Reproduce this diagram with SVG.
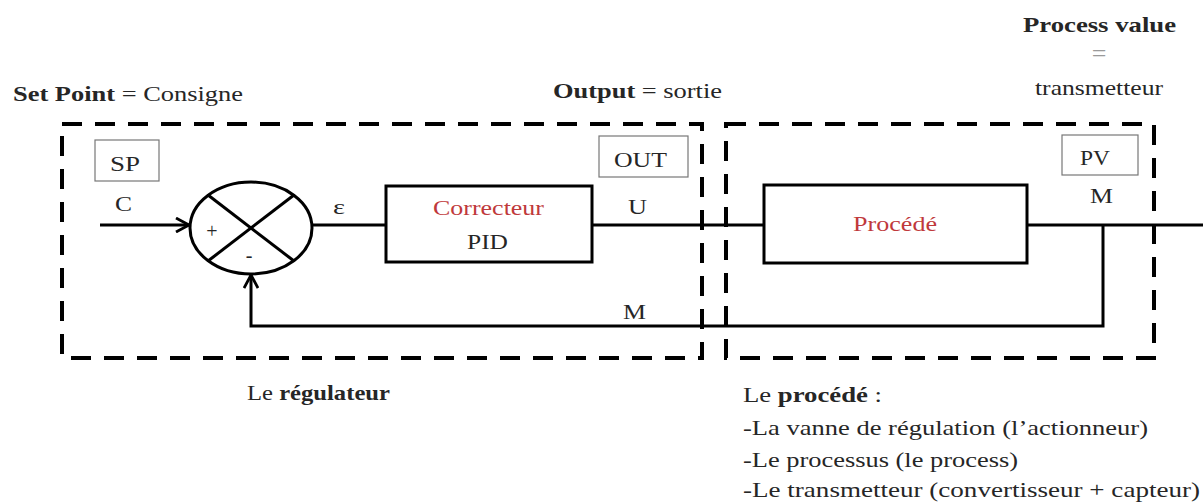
<svg xmlns="http://www.w3.org/2000/svg" width="1203" height="502" viewBox="0 0 1203 502">
  <style>
    text { font-family: "Liberation Serif", "Times New Roman", Tinos, "Nimbus Roman", "Noto Serif", "DejaVu Serif", serif; fill: #262626; }
    .lbl { font-size: 20px; }
    .hd { font-size: 21px; }
    .red { fill: #c0393b; }
    .b { font-weight: bold; }
    .wire { fill: none; stroke: #000; stroke-width: 3; }
    .blk { fill: #fff; stroke: #000; stroke-width: 3; }
    .tag { fill: #fff; stroke: #777; stroke-width: 1.2; }
    .zone { fill: none; stroke: #000; stroke-width: 4; stroke-dasharray: 20 13; }
  </style>
  <defs>
    <marker id="arr" viewBox="0 0 16 16" refX="14" refY="8" markerWidth="16" markerHeight="16" markerUnits="userSpaceOnUse" orient="auto">
      <path d="M1,1 L14,8 L1,15" fill="none" stroke="#000" stroke-width="2.8"/>
    </marker>
  </defs>
  <rect width="1203" height="502" fill="#fff"/>

  <!-- dashed zones -->
  <g id="zone-regulateur">
    <rect class="zone" x="62" y="124" width="640" height="234"/>
  </g>
  <g id="zone-procede">
    <rect class="zone" x="726" y="124" width="428" height="234"/>
  </g>

  <!-- connectors -->
  <g id="connectors">
    <line class="wire" x1="100" y1="225" x2="189" y2="225" marker-end="url(#arr)"/>
    <line class="wire" x1="312" y1="225" x2="386" y2="225"/>
    <line class="wire" x1="592" y1="225" x2="764" y2="225"/>
    <line class="wire" x1="1027" y1="225" x2="1203" y2="225"/>
    <polyline class="wire" points="1103,225 1103,326 251,326 251,275" marker-end="url(#arr)"/>
  </g>

  <!-- summing junction -->
  <g id="comparateur">
    <ellipse cx="251" cy="228" rx="61" ry="46" fill="#fff" stroke="#000" stroke-width="3"/>
    <line class="wire" x1="208" y1="195" x2="294" y2="261"/>
    <line class="wire" x1="294" y1="195" x2="208" y2="261"/>
    <text x="212" y="238" font-size="20" text-anchor="middle">+</text>
    <text x="249" y="262" font-size="20" text-anchor="middle">-</text>
  </g>

  <g id="correcteur">
    <rect class="blk" x="386" y="186" width="206" height="76"/>
    <text class="lbl red" x="433" y="215" textLength="111" lengthAdjust="spacingAndGlyphs">Correcteur</text>
    <text class="lbl" x="467" y="249" textLength="41" lengthAdjust="spacingAndGlyphs">PID</text>
  </g>

  <g id="procede">
    <rect class="blk" x="764" y="185" width="263" height="78"/>
    <text class="lbl red" x="853" y="231" textLength="84" lengthAdjust="spacingAndGlyphs">Procédé</text>
  </g>

  <!-- signal tags -->
  <g id="sp">
    <rect class="tag" x="95" y="140" width="64" height="41"/>
    <text class="lbl" x="110" y="171" textLength="30" lengthAdjust="spacingAndGlyphs">SP</text>
    <text class="lbl" x="115" y="211" textLength="17" lengthAdjust="spacingAndGlyphs">C</text>
  </g>
  <g id="out">
    <rect class="tag" x="599" y="136" width="89" height="41"/>
    <text class="lbl" x="614" y="167" textLength="53" lengthAdjust="spacingAndGlyphs">OUT</text>
    <text class="lbl" x="628" y="214" textLength="19" lengthAdjust="spacingAndGlyphs">U</text>
  </g>
  <g id="pv">
    <rect class="tag" x="1062" y="135" width="76" height="40"/>
    <text class="lbl" x="1080" y="165" textLength="30" lengthAdjust="spacingAndGlyphs">PV</text>
    <text class="lbl" x="1090" y="203" textLength="23" lengthAdjust="spacingAndGlyphs">M</text>
  </g>
  <g id="labels-wires">
    <text class="lbl" x="333" y="214" textLength="12" lengthAdjust="spacingAndGlyphs">ε</text>
    <text class="lbl" x="623" y="319" textLength="23" lengthAdjust="spacingAndGlyphs">M</text>
  </g>

  <!-- headings -->
  <g id="set-point">
    <text class="hd" x="13" y="101" textLength="230" lengthAdjust="spacingAndGlyphs"><tspan class="b">Set Point</tspan> = Consigne</text>
  </g>
  <g id="output">
    <text class="hd" x="553" y="98" textLength="169" lengthAdjust="spacingAndGlyphs"><tspan class="b">Output</tspan> = sortie</text>
  </g>
  <g id="process-value">
    <text class="hd b" x="1023" y="32" textLength="153" lengthAdjust="spacingAndGlyphs">Process value</text>
    <text x="1099" y="62" font-size="26" text-anchor="middle" style="fill:#9a9a9a">=</text>
    <text class="hd" x="1035" y="95" textLength="128" lengthAdjust="spacingAndGlyphs">transmetteur</text>
  </g>

  <!-- captions -->
  <g id="legende-regulateur">
    <text class="hd" x="247" y="400" textLength="143" lengthAdjust="spacingAndGlyphs">Le <tspan class="b">régulateur</tspan></text>
  </g>
  <g id="legende-procede">
    <text class="hd" x="743" y="402" textLength="139" lengthAdjust="spacingAndGlyphs">Le <tspan class="b">procédé</tspan> :</text>
    <text class="hd" x="743" y="435" textLength="405" lengthAdjust="spacingAndGlyphs">-La vanne de régulation (l’actionneur)</text>
    <text class="hd" x="743" y="467" textLength="275" lengthAdjust="spacingAndGlyphs">-Le processus (le process)</text>
    <text class="hd" x="743" y="497" textLength="457" lengthAdjust="spacingAndGlyphs">-Le transmetteur (convertisseur + capteur)</text>
  </g>
</svg>
